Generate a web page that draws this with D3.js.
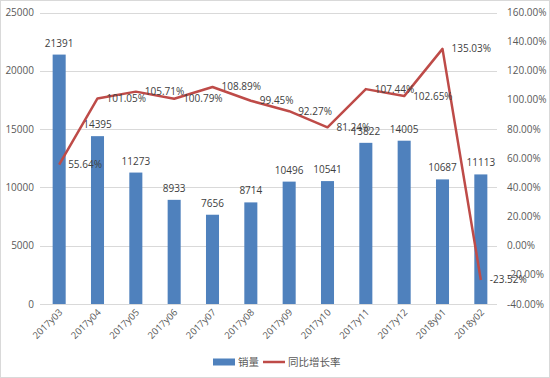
<!DOCTYPE html>
<html>
<head>
<meta charset="utf-8">
<script src="https://cdn.jsdelivr.net/npm/d3@7"></script>
<style>
  body { margin: 0; background: #fff; }
  text { font-family: "Open Sans", "Noto Sans", "Noto Sans CJK SC", sans-serif; }
</style>
</head>
<body>
<div id="chart"></div>
<script>
const months = ['2017y03', '2017y04', '2017y05', '2017y06', '2017y07', '2017y08',
  '2017y09', '2017y10', '2017y11', '2017y12', '2018y01', '2018y02']
const sales = [21391, 14395, 11273, 8933, 7656, 8714, 10496, 10541, 13822, 14005, 10687, 11113]
const growth = [55.64, 101.05, 105.71, 100.79, 108.89, 99.45, 92.27, 81.24, 107.44, 102.65, 135.03, -23.52]
const leftTicks = [0, 5000, 10000, 15000, 20000, 25000]
const rightTicks = [-40, -20, 0, 20, 40, 60, 80, 100, 120, 140, 160]

const width = 550
const height = 378
const plotTop = 12.5
const plotBottom = 304
const plotLeft = 40
const plotRight = 500

const svg = d3.select('#chart').append('svg')
  .attr('width', width)
  .attr('height', height)

// outer border
svg.append('rect')
  .attr('x', 0.5).attr('y', 0.5)
  .attr('width', width - 1).attr('height', height - 1)
  .attr('fill', '#fff').attr('stroke', '#d9d9d9')

const x = d3.scaleBand().domain(months).range([plotLeft, plotRight]).paddingInner(0.66).paddingOuter(0.33)
const y = d3.scaleLinear().domain([0, 25000]).range([plotBottom, plotTop])
const y2 = d3.scaleLinear().domain([-40, 160]).range([plotBottom, plotTop])
const cx = (d) => x(d) + x.bandwidth() / 2

// gridlines
svg.append('g').selectAll('line')
  .data(leftTicks)
  .join('line')
  .attr('x1', plotLeft).attr('x2', plotRight - 3)
  .attr('y1', (d) => Math.round(y(d)) + 0.5)
  .attr('y2', (d) => Math.round(y(d)) + 0.5)
  .attr('stroke', '#d9d9d9')

// left axis labels
svg.append('g').selectAll('text')
  .data(leftTicks)
  .join('text')
  .attr('x', 34)
  .attr('y', (d) => y(d) + 3.5)
  .attr('text-anchor', 'end')
  .attr('font-size', 10)
  .attr('fill', '#595959')
  .text((d) => d)

// right axis labels
svg.append('g').selectAll('text')
  .data(rightTicks)
  .join('text')
  .attr('x', 507)
  .attr('y', (d) => y2(d) + 3.5)
  .attr('font-size', 10)
  .attr('fill', '#595959')
  .text((d) => d.toFixed(2) + '%')

// bars
svg.append('g').selectAll('rect')
  .data(sales)
  .join('rect')
  .attr('x', (d, i) => x(months[i]))
  .attr('y', (d) => y(d))
  .attr('width', x.bandwidth())
  .attr('height', (d) => plotBottom - y(d))
  .attr('fill', '#4f81bd')

// bar labels
svg.append('g').selectAll('text')
  .data(sales)
  .join('text')
  .attr('x', (d, i) => cx(months[i]))
  .attr('y', (d) => y(d) - 8)
  .attr('text-anchor', 'middle')
  .attr('font-size', 10)
  .attr('fill', '#404040')
  .text((d) => d)

// growth line
const line = d3.line()
  .x((d, i) => cx(months[i]))
  .y((d) => y2(d))

svg.append('path')
  .attr('d', line(growth))
  .attr('fill', 'none')
  .attr('stroke', '#be4b48')
  .attr('stroke-width', 2.5)
  .attr('stroke-linejoin', 'round')

svg.append('g').selectAll('text')
  .data(growth)
  .join('text')
  .attr('x', (d, i) => cx(months[i]) + 9)
  .attr('y', (d) => y2(d) + 3.5)
  .attr('font-size', 10)
  .attr('fill', '#404040')
  .text((d) => d.toFixed(2) + '%')

// category labels
svg.append('g').selectAll('text')
  .data(months)
  .join('text')
  .attr('transform', (d) => `translate(${cx(d) + 4},${plotBottom + 9}) rotate(-45)`)
  .attr('text-anchor', 'end')
  .attr('font-size', 9.5)
  .attr('fill', '#595959')
  .text((d) => d)

// legend
const legend = svg.append('g').attr('transform', 'translate(213,362)')
legend.append('rect')
  .attr('x', 0).attr('y', -3.5).attr('width', 22).attr('height', 7)
  .attr('fill', '#4f81bd')
legend.append('text')
  .attr('x', 25).attr('y', 4)
  .attr('font-size', 10.5).attr('fill', '#595959')
  .text('销量')
legend.append('line')
  .attr('x1', 50).attr('x2', 72).attr('y1', 0).attr('y2', 0)
  .attr('stroke', '#be4b48').attr('stroke-width', 2.5)
legend.append('text')
  .attr('x', 75).attr('y', 4)
  .attr('font-size', 10.5).attr('fill', '#595959')
  .text('同比增长率')
</script>
</body>
</html>
